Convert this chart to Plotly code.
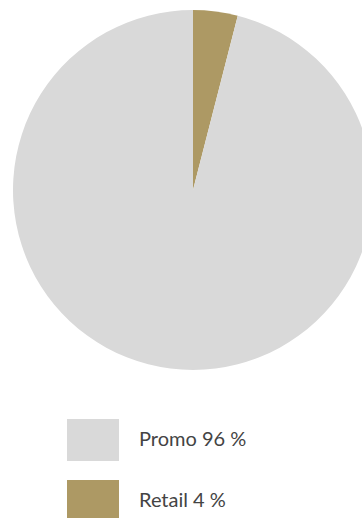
import plotly.graph_objects as go

# Sales split by channel
labels = ["Promo", "Retail"]
values = [96, 4]
colors = ["#d9d9d9", "#ad9964"]

W, H = 380, 518

# Pie starts at 12 o'clock with the smallest share, running clockwise
fig = go.Figure(
    go.Pie(
        labels=labels[::-1],
        values=values[::-1],
        marker=dict(colors=colors[::-1], line=dict(width=0)),
        sort=False,
        direction="clockwise",
        rotation=0,
        textinfo="none",
        hoverinfo="label+percent",
        showlegend=False,
        domain=dict(x=[13 / W, 373 / W], y=[(H - 370) / H, (H - 10) / H]),
    )
)

# Legend: a swatch and a caption per category
sw_x0, sw_x1 = 67, 119
rows_top = [419, 480]
sw_h = 42
for lab, val, col, top in zip(labels, values, colors, rows_top):
    fig.add_shape(
        type="rect", xref="paper", yref="paper",
        x0=sw_x0 / W, x1=sw_x1 / W,
        y0=(H - top - sw_h) / H, y1=(H - top) / H,
        fillcolor=col, line=dict(width=0), layer="above",
    )
    fig.add_annotation(
        xref="paper", yref="paper",
        x=137 / W, y=(H - top - sw_h / 2 + 2) / H,
        text=f"{lab} {val} %", showarrow=False,
        xanchor="left", yanchor="middle",
        font=dict(family="Lato", size=20, color="#444444"),
    )

fig.update_layout(
    width=W, height=H,
    margin=dict(l=0, r=0, t=0, b=0),
    paper_bgcolor="white", plot_bgcolor="white",
)

fig.write_html(
    "out.html",
    post_script="document.body.style.overflow='hidden';document.documentElement.style.overflow='hidden';",
)
